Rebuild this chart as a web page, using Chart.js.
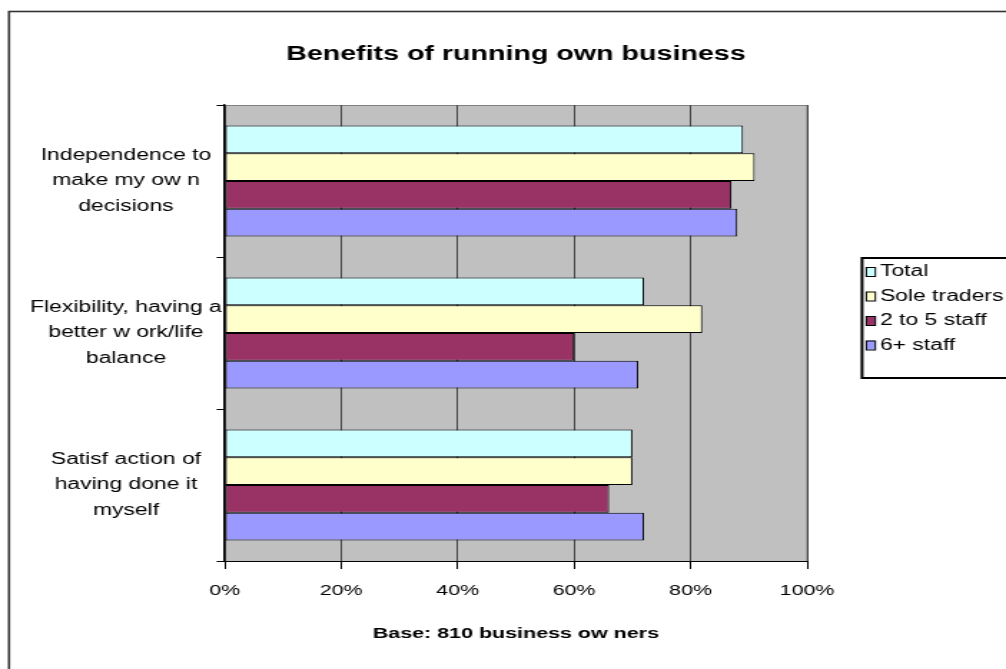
<!DOCTYPE html>
<html>
<head>
<meta charset="utf-8">
<script src="https://cdn.jsdelivr.net/npm/chart.js@4/dist/chart.umd.min.js"></script>
<style>
  body { margin: 0; background: #fff; overflow: hidden; }
  /* drawn narrow, then stretched out to the full width */
  #benefitsChart { display: block; width: 1006px; height: 669px; }
</style>
</head>
<body>
<canvas id="benefitsChart" width="703" height="669" style="width:1006px;height:669px"></canvas>
<script>
// Survey figures (% of owners)
const categories = [
    ['Independence to', 'make my ow n', 'decisions'],
    ['Flexibility, having a', 'better w ork/life', 'balance'],
    ['Satisf action of', 'having done it', 'myself']
];
const seriesNames = ['Total', 'Sole traders', '2 to 5 staff', '6+ staff'];
const totalValues = [89, 72, 70];
const soleTraderValues = [91, 82, 70];
const smallStaffValues = [87, 60, 66];
const largeStaffValues = [88, 71, 72];
const seriesColors = ['#CCFFFF', '#FFFFCC', '#993366', '#9999FF'];
const xTicks = [0, 20, 40, 60, 80, 100];

const FONT = "'Liberation Sans', Arial, sans-serif";

// grey plot area + outer frame
const frameAndBackground = {
    id: 'frameAndBackground',
    beforeDraw(chart) {
        const ctx = chart.ctx;
        const a = chart.chartArea;
        ctx.save();
        ctx.fillStyle = '#fff';
        ctx.fillRect(0, 0, chart.width, chart.height);
        ctx.strokeStyle = '#333';
        ctx.lineWidth = 1.6;
        ctx.strokeRect(6.3, 11.5, 1200, 800);
        ctx.fillStyle = '#C0C0C0';
        ctx.fillRect(a.left, a.top, a.right - a.left, a.bottom - a.top);
        ctx.strokeStyle = '#808080';
        ctx.lineWidth = 1;
        ctx.strokeRect(a.left, a.top + 0.5, a.right - a.left, a.bottom - a.top);
        ctx.restore();
    }
};

// boxed legend on the right
const boxLegend = {
    id: 'boxLegend',
    afterDraw(chart) {
        const ctx = chart.ctx;
        const x = 602.4, y = 258, rowH = 24.5;
        ctx.save();
        ctx.strokeStyle = '#000';
        ctx.lineWidth = 2;
        ctx.strokeRect(x, y, 200, 120);
        ctx.font = '16px ' + FONT;
        ctx.textBaseline = 'middle';
        chart.data.datasets.forEach((ds, i) => {
            const cy = y + 13 + i * rowH;
            ctx.fillStyle = ds.backgroundColor;
            ctx.fillRect(x + 3, cy - 4, 6.3, 9);
            ctx.strokeStyle = '#000';
            ctx.lineWidth = 1;
            ctx.strokeRect(x + 3, cy - 3.5, 6.3, 9);
            ctx.fillStyle = '#000';
            ctx.fillText(ds.label, x + 12.5, cy + 1);
        });
        ctx.restore();
    }
};

const seriesData = [totalValues, soleTraderValues, smallStaffValues, largeStaffValues];

new Chart(document.getElementById('benefitsChart'), {
    type: 'bar',
    data: {
        labels: categories,
        datasets: seriesNames.map((name, i) => ({
            label: name,
            data: seriesData[i],
            backgroundColor: seriesColors[i],
            borderColor: '#000',
            borderWidth: 1,
            borderSkipped: false,
            barPercentage: 1,
            categoryPercentage: 0.73
        }))
    },
    options: {
        indexAxis: 'y',
        responsive: false,
        animation: false,
        devicePixelRatio: 1,
        layout: { padding: { left: 10, right: 139, top: 0, bottom: 0 } },
        plugins: {
            legend: { display: false },
            tooltip: { enabled: false },
            title: {
                display: true,
                fullSize: false,
                text: 'Benefits of running own business',
                color: '#000',
                font: { family: FONT, size: 20, weight: 'bold' },
                padding: { top: 42, bottom: 39 }
            }
        },
        scales: {
            x: {
                min: 0,
                max: 100,
                afterBuildTicks(scale) {
                    scale.ticks = xTicks.map(v => ({ value: v }));
                },
                afterFit(scale) { scale.height = 108; },
                grid: {
                    color: '#444',
                    lineWidth: 1,
                    tickLength: 8,
                    tickColor: '#000'
                },
                border: { color: '#000', width: 1 },
                ticks: {
                    color: '#000',
                    padding: 13,
                    font: { family: FONT, size: 15 },
                    callback: v => v + '%'
                },
                title: {
                    display: true,
                    text: 'Base: 810 business ow ners',
                    color: '#000',
                    font: { family: FONT, size: 15, weight: 'bold' },
                    padding: { top: 8, bottom: 26 }
                }
            },
            y: {
                afterFit(scale) { scale.width = 147; },
                grid: {
                    drawOnChartArea: false,
                    tickLength: 5.6,
                    tickColor: '#000',
                    offset: true
                },
                border: { color: '#000', width: 1.4 },
                ticks: {
                    color: '#000',
                    crossAlign: 'center',
                    padding: -3.6,
                    font: { family: FONT, size: 16, lineHeight: 1.6 }
                }
            }
        }
    },
    plugins: [frameAndBackground, boxLegend]
});
</script>
</body>
</html>
